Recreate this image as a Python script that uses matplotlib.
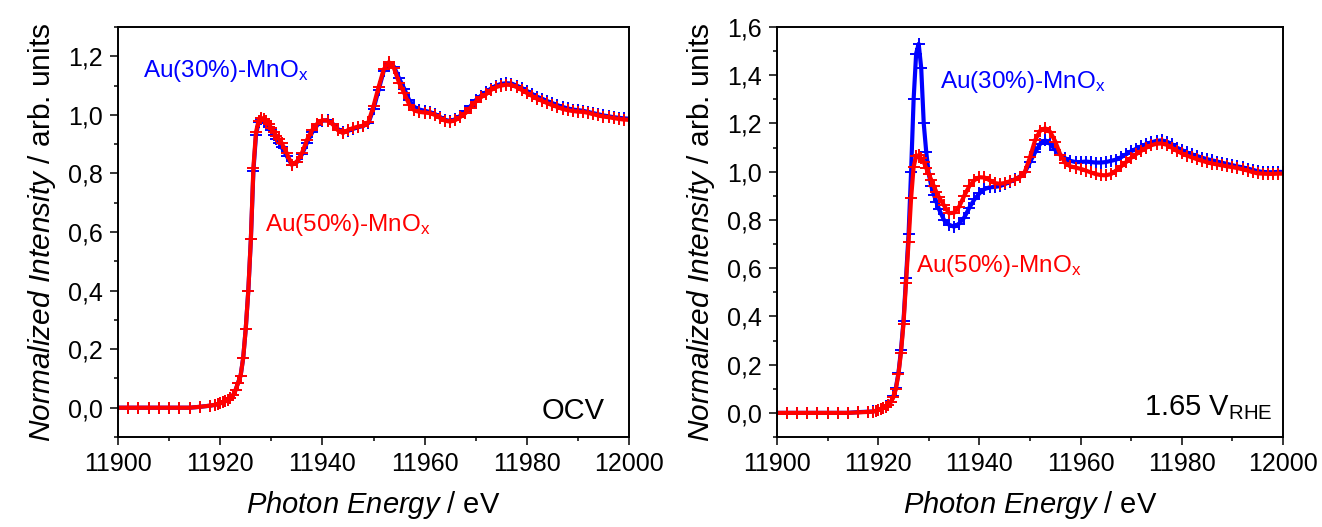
import numpy as np
import matplotlib
matplotlib.use("Agg")
import matplotlib.pyplot as plt
from matplotlib.ticker import MultipleLocator, FuncFormatter

plt.rcParams['font.family'] = ['Liberation Sans', 'DejaVu Sans']
plt.rcParams['mathtext.fontset'] = 'custom'
plt.rcParams['mathtext.rm'] = 'Liberation Sans'
plt.rcParams['mathtext.it'] = 'Liberation Sans:italic'

# photon energy grid (eV): coarse pre-edge, fine across the edge, 1 eV after
energy = np.r_[np.arange(11900, 11919, 2), np.arange(11919, 11932.5, 0.5), np.arange(11933, 12001, 1)]

# OCV
ocv_au30 = [0, 0, 0, 0, 0, 0, 0, 0, 0.003, 0.007,
            0.010, 0.012, 0.015, 0.018, 0.022, 0.027, 0.033, 0.042, 0.060, 0.085,
            0.11, 0.17, 0.27, 0.40, 0.575, 0.81, 0.93, 0.975, 0.985, 0.98,
            0.972, 0.96, 0.947, 0.932, 0.918, 0.905, 0.89,
            0.86, 0.83, 0.838, 0.865, 0.905, 0.94, 0.965, 0.98, 0.982, 0.97,
            0.952, 0.94, 0.945, 0.952, 0.958, 0.962, 0.972, 1.02, 1.085, 1.15,
            1.175, 1.165, 1.125, 1.09, 1.05, 1.027, 1.018, 1.014, 1.01, 1.003,
            0.993, 0.983, 0.979, 0.985, 0.997, 1.012, 1.03, 1.05, 1.065, 1.077,
            1.09, 1.1, 1.106, 1.108, 1.107, 1.1, 1.092, 1.082, 1.072, 1.062,
            1.055, 1.047, 1.04, 1.033, 1.027, 1.022, 1.018, 1.016, 1.014, 1.01,
            1.006, 1.002, 0.998, 0.995, 0.992, 0.99, 0.988, 0.987]
ocv_au50 = [0, 0, 0, 0, 0, 0, 0, 0, 0.003, 0.007,
            0.010, 0.012, 0.015, 0.018, 0.022, 0.027, 0.033, 0.042, 0.060, 0.085,
            0.11, 0.17, 0.27, 0.40, 0.575, 0.82, 0.94, 0.98, 0.99, 0.985,
            0.978, 0.968, 0.955, 0.94, 0.928, 0.918, 0.905,
            0.87, 0.83, 0.84, 0.87, 0.915, 0.948, 0.97, 0.982, 0.98, 0.968,
            0.948, 0.938, 0.948, 0.955, 0.96, 0.963, 0.975, 1.03, 1.095, 1.155,
            1.18, 1.16, 1.11, 1.075, 1.035, 1.015, 1.01, 1.008, 1.006, 1.0,
            0.99, 0.98, 0.977, 0.982, 0.993, 1.006, 1.025, 1.045, 1.06, 1.07,
            1.085, 1.095, 1.1, 1.103, 1.102, 1.095, 1.085, 1.075, 1.065, 1.055,
            1.048, 1.04, 1.033, 1.027, 1.02, 1.016, 1.013, 1.011, 1.01, 1.007,
            1.002, 0.998, 0.994, 0.992, 0.989, 0.986, 0.984, 0.983]

# 1.65 V_RHE
rhe_au30 = [0, 0, 0, 0, 0, 0, 0, 0, 0.003, 0.005,
            0.006, 0.009, 0.013, 0.017, 0.021, 0.027, 0.034, 0.046, 0.068, 0.105,
            0.165, 0.26, 0.38, 0.56, 0.74, 1.0, 1.3, 1.49, 1.53, 1.43,
            1.2, 1.08, 0.99, 0.94, 0.905, 0.875, 0.845,
            0.8, 0.78, 0.772, 0.785, 0.81, 0.85, 0.885, 0.91, 0.928, 0.935,
            0.937, 0.94, 0.948, 0.958, 0.968, 0.98, 0.998, 1.04, 1.08, 1.115,
            1.13, 1.115, 1.09, 1.07, 1.055, 1.045, 1.04, 1.04, 1.042, 1.04,
            1.038, 1.038, 1.04, 1.045, 1.05, 1.06, 1.072, 1.085, 1.095, 1.105,
            1.115, 1.122, 1.128, 1.13, 1.125, 1.115, 1.1, 1.09, 1.08, 1.072,
            1.065, 1.058, 1.052, 1.047, 1.042, 1.037, 1.032, 1.027, 1.022, 1.018,
            1.013, 1.008, 1.002, 0.999, 0.998, 0.998, 0.999, 0.999]
rhe_au50 = [0, 0, 0, 0, 0, 0, 0, 0, 0.002, 0.004,
            0.005, 0.008, 0.012, 0.016, 0.02, 0.026, 0.033, 0.045, 0.065, 0.10,
            0.16, 0.25, 0.37, 0.54, 0.71, 0.89, 1.02, 1.065, 1.068, 1.055,
            1.04, 1.015, 0.99, 0.965, 0.94, 0.915, 0.895,
            0.86, 0.828, 0.83, 0.855, 0.9, 0.94, 0.965, 0.977, 0.976, 0.965,
            0.953, 0.95, 0.953, 0.96, 0.967, 0.978, 1.0, 1.06, 1.13, 1.17,
            1.18, 1.165, 1.125, 1.07, 1.035, 1.022, 1.017, 1.012, 1.005, 0.997,
            0.99, 0.986, 0.985, 0.99, 1.005, 1.022, 1.04, 1.058, 1.073, 1.087,
            1.1, 1.11, 1.116, 1.117, 1.112, 1.1, 1.087, 1.076, 1.067, 1.059,
            1.052, 1.045, 1.039, 1.034, 1.03, 1.026, 1.022, 1.019, 1.015, 1.01,
            1.005, 0.998, 0.993, 0.992, 0.991, 0.991, 0.992, 0.992]

blue, red = '#0000ff', '#ff0000'
label30 = r'Au(30%)-MnO$_\mathregular{x}$'
label50 = r'Au(50%)-MnO$_\mathregular{x}$'

fig = plt.figure(figsize=(13.22, 5.27), dpi=100)
ax_l = fig.add_axes([118 / 1322, 1 - 437 / 527, 511 / 1322, 410 / 527])
ax_r = fig.add_axes([777 / 1322, 1 - 437 / 527, 506 / 1322, 410 / 527])


def style(ax, ylim):
    ax.set_xlim(11900, 12000)
    ax.set_ylim(*ylim)
    ax.xaxis.set_major_locator(MultipleLocator(20))
    ax.xaxis.set_minor_locator(MultipleLocator(10))
    ax.yaxis.set_major_locator(MultipleLocator(0.2))
    ax.yaxis.set_minor_locator(MultipleLocator(0.1))
    ax.yaxis.set_major_formatter(FuncFormatter(lambda v, p: f"{v:.1f}".replace('.', ',')))
    ax.xaxis.set_major_formatter(FuncFormatter(lambda v, p: f"{v:.0f}"))
    ax.tick_params(which='both', direction='out', top=False, right=False, width=1.1, labelsize=18, pad=5)
    ax.tick_params(which='major', length=6)
    ax.tick_params(which='minor', length=3)
    for s in ax.spines.values():
        s.set_linewidth(1.4)
    ax.set_xlabel(r'$\mathit{Photon\ Energy}$ / eV', fontsize=21, labelpad=9)
    ax.set_ylabel(r'$\mathit{Normalized\ Intensity}$ / arb. units', fontsize=21.5, labelpad=7)


for ax, b, r in [(ax_l, ocv_au30, ocv_au50), (ax_r, rhe_au30, rhe_au50)]:
    ax.plot(energy, b, color=blue, lw=3, marker='+', ms=8, mew=1.4)
    ax.plot(energy, r, color=red, lw=3, marker='+', ms=8, mew=1.4)

style(ax_l, (-0.1, 1.3))
style(ax_r, (-0.1, 1.6))

ax_l.text(11904.9, 1.13, label30, color=blue, fontsize=17.5, va='baseline')
ax_l.text(11928.8, 0.602, label50, color=red, fontsize=17.5, va='baseline')
ax_l.text(11995.3, -0.037, 'OCV', fontsize=21, ha='right', va='baseline')

ax_r.text(11932.2, 1.346, label30, color=blue, fontsize=17.5, va='baseline')
ax_r.text(11927.5, 0.583, label50, color=red, fontsize=17.5, va='baseline')
ax_r.text(11998, -0.008, r'1.65 V$_\mathregular{RHE}$', fontsize=21, ha='right', va='baseline')

fig.savefig('out.png', dpi=100)
